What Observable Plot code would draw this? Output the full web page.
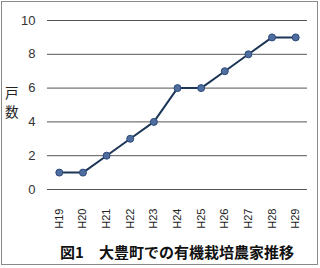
<!DOCTYPE html>
<html><head><meta charset="utf-8">
<script src="https://cdn.jsdelivr.net/npm/d3@7"></script>
<script src="https://cdn.jsdelivr.net/npm/@observablehq/plot@0.6"></script>
<style>
body{margin:0;background:#fff;}
#frame{position:absolute;left:1px;top:1px;width:317px;height:264px;border:1px solid #8a8a8a;box-sizing:border-box;}
#chart{position:absolute;left:0;top:0;}
.yl{position:absolute;left:5px;font:13.5px "Noto Sans CJK JP",sans-serif;line-height:13px;color:#222;}
#cap{position:absolute;left:0;top:241px;width:354px;text-align:center;font:bold 15px "Noto Sans CJK JP",sans-serif;color:#111;white-space:pre;}
</style></head><body>
<div id="frame"></div>
<div id="chart"></div>
<div class="yl" style="top:86px">戸</div>
<div class="yl" style="top:105px">数</div>
<div id="cap">図1　大豊町での有機栽培農家推移</div>
<script>
const years = ["H19","H20","H21","H22","H23","H24","H25","H26","H27","H28","H29"];
const farms = [1,1,2,3,4,6,6,7,8,9,9];
const yTicks = [0,2,4,6,8,10];
const data = years.map((y,i)=>({year:y, n:farms[i]}));
const chart = Plot.plot({
  width:320, height:232,
  marginLeft:47, marginRight:13, marginTop:20, marginBottom:43,
  style:{fontFamily:"Arial, 'Liberation Sans', sans-serif", background:"transparent"},
  x:{type:"point", domain:years, padding:0.5, round:false, label:null},
  y:{domain:[0,10], label:null},
  marks:[
    Plot.gridY(yTicks,{stroke:"#555", strokeOpacity:1, strokeWidth:1}),
    Plot.axisY(yTicks,{tickSize:0, tickPadding:12, fontSize:13, fill:"#333", label:null}),
    Plot.axisX({tickSize:0, tickRotate:-90, tickPadding:19, fontSize:11, fill:"#222", style:{letterSpacing:"1.5px"}, label:null}),
    Plot.line(data,{x:"year", y:"n", stroke:"#1d3557", strokeWidth:2}),
    Plot.dot(data,{x:"year", y:"n", r:3.5, fill:"#506da0", stroke:"#2c4a7a", strokeWidth:1})
  ]
});
document.getElementById("chart").appendChild(chart);
</script>
</body></html>
